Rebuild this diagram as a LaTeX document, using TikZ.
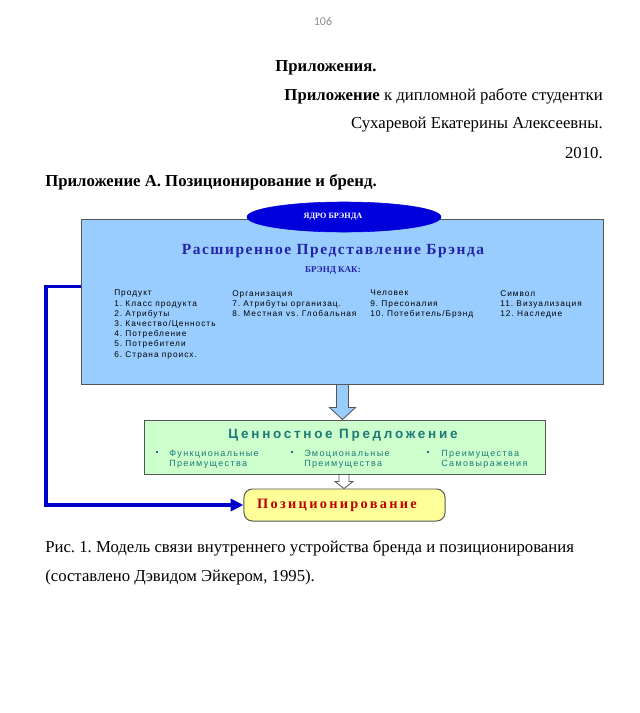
\documentclass[tikz,border=0pt]{standalone}
\usepackage{fontspec}
\setmainfont{Liberation Serif}
\setsansfont{Liberation Sans}
\newfontfamily\pagefont{Carlito}
\newfontfamily\widesans[LetterSpace=12]{Liberation Sans}
\newfontfamily\perksans[LetterSpace=15]{Liberation Sans}
\newfontfamily\titlesans[LetterSpace=20]{Liberation Sans}
\newfontfamily\titleserif[LetterSpace=10]{Liberation Serif}
\newfontfamily\posserif[LetterSpace=16]{Liberation Serif}
\usetikzlibrary{arrows.meta,calc,shapes.geometric}
\definecolor{pagegray}{HTML}{8C8C8C}
\definecolor{edge}{HTML}{555555}
\definecolor{brandblue}{HTML}{99CCFF}
\definecolor{coreblue}{HTML}{0000DD}
\definecolor{inkblue}{HTML}{2424A8}
\definecolor{linkblue}{HTML}{0000CC}
\definecolor{valuegreen}{HTML}{CCFFCC}
\definecolor{tealtext}{HTML}{1E7878}
\definecolor{posyellow}{HTML}{FFFF99}
\definecolor{posred}{HTML}{C00000}
\frenchspacing

\begin{document}
\begin{tikzpicture}[
    x=0.025cm, y=-0.025cm,
    head/.style={inner sep=0pt, font=\fontsize{11.9}{14}\selectfont},
    box/.style={draw=edge, line width=0.7pt, inner sep=0pt},
    core/.style={ellipse, draw=coreblue, fill=coreblue, minimum width=4.85cm, minimum height=0.75cm, inner sep=0pt},
    col/.style={anchor=north west, align=left, inner sep=0pt, execute at begin node=\strut, font=\widesans\fontsize{5.9}{7.25}\selectfont},
    perk/.style={anchor=north west, align=left, inner sep=0pt, text=tealtext, execute at begin node=\strut, font=\perksans\fontsize{6.4}{7.25}\selectfont},
    dot/.style={fill=tealtext, inner sep=0pt, minimum size=2pt},
    bigarrow/.style={draw=edge, fill=brandblue, line width=0.6pt, line join=miter},
    smallarrow/.style={draw=edge, fill=white, line width=0.6pt, line join=miter},
    link/.style={draw=linkblue, line width=2.8pt, -{Triangle[length=0.32cm, width=0.3cm]}}
  ]
    \useasboundingbox (0,0) rectangle (640,713);

    % page header
    \node[text=pagegray, inner sep=0pt, font=\pagefont\fontsize{8.5}{10}\selectfont] (page) at (323,22) {106};
    \node[head, font=\bfseries\fontsize{11.9}{14}\selectfont] (apx) at (326,68) {Приложения.};
    \node[head, anchor=east] (apxfor) at (603,96) {\textbf{Приложение} к дипломной работе студентки};
    \node[head, anchor=east] (apxname) at (603,125) {Сухаревой Екатерины Алексеевны.};
    \node[head, anchor=east] (apxyear) at (603,153) {2010.};
    \node[head, anchor=west, font=\bfseries\fontsize{11.9}{14}\selectfont] (apxa) at (45,182) {Приложение А. Позиционирование и бренд.};

    % brand box
    \node[box, fill=brandblue, minimum width=13.025cm, minimum height=4.1cm] (brand) at (342.5,302) {};
    \node[core] (core) at (344,217) {};
    \node[inner sep=0pt, text=white, font=\bfseries\fontsize{5.8}{7}\selectfont] (corelabel) at (333,217) {ЯДРО БРЭНДА};
    \node[inner sep=0pt, text=inkblue, font=\titleserif\bfseries\fontsize{11}{13}\selectfont] (brandtitle) at (333,251) {Расширенное Представление Брэнда};
    \node[inner sep=0pt, text=inkblue, font=\bfseries\fontsize{6.4}{8}\selectfont] (brandas) at (333,270) {БРЭНД КАК:};
    \node[col] (product) at (114,290) {Продукт\\1. Класс продукта\\2. Атрибуты\\3. Качество/Ценность\\4. Потребление\\5. Потребители\\6. Страна происх.};
    \node[col] (org) at (232,290) {Организация\\7. Атрибуты организац.\\8. Местная vs. Глобальная};
    \node[col] (person) at (370,290) {Человек\\9. Пресоналия\\10. Потебитель/Брэнд};
    \node[col] (symbol) at (500,290) {Символ\\11. Визуализация\\12. Наследие};

    % value box
    \node[box, fill=valuegreen, minimum width=10cm, minimum height=1.35cm] (value) at (345,447) {};
    \node[inner sep=0pt, text=tealtext, font=\titlesans\bfseries\fontsize{9.6}{11}\selectfont] (valuetitle) at (343,435) {Ценностное Предложение};
    \node[dot] (dotfunc) at (157,452) {};
    \node[dot] (dotemo) at (292,452) {};
    \node[dot] (dotself) at (428,452) {};
    \node[perk] (func) at (169,450) {Функциональные\\Преимущества};
    \node[perk] (emo) at (304,450) {Эмоциональные\\Преимущества};
    \node[perk] (self) at (441,450) {Преимущества\\Самовыражения};

    % positioning box
    \node[box, fill=posyellow, rounded corners=6pt, minimum width=5.025cm, minimum height=0.8cm] (pos) at (344.5,505) {};
    \node[inner sep=0pt, text=posred, font=\posserif\bfseries\fontsize{10.2}{12}\selectfont] (postitle) at (337,505) {Позиционирование};

    % block arrows
    \draw[bigarrow] ($(brand.south)+(-6,0)$) -- ($(brand.south)+(6,0)$)
      -- ($(brand.south |- value.north)+(6,-12)$) -- ($(brand.south |- value.north)+(13,-12)$)
      -- (brand.south |- value.north)
      -- ($(brand.south |- value.north)+(-13,-12)$) -- ($(brand.south |- value.north)+(-6,-12)$) -- cycle;
    \draw[smallarrow] ($(value.south)+(-6,0)$) -- ($(value.south)+(4,0)$)
      -- ($(value.south |- pos.north)+(4,-7)$) -- ($(value.south |- pos.north)+(8,-7)$)
      -- ($(value.south |- pos.north)+(-1,0)$)
      -- ($(value.south |- pos.north)+(-10,-7)$) -- ($(value.south |- pos.north)+(-6,-7)$) -- cycle;

    % connector
    \draw[link] ($(brand.north west)+(0,67)$) -- ++(-35,0) |- (pos.west);

    % caption
    \node[head, anchor=west] (capa) at (45,548) {Рис. 1. Модель связи внутреннего устройства бренда и позиционирования};
    \node[head, anchor=west] (capb) at (45,577) {(составлено Дэвидом Эйкером, 1995).};
  \end{tikzpicture}
\end{document}
